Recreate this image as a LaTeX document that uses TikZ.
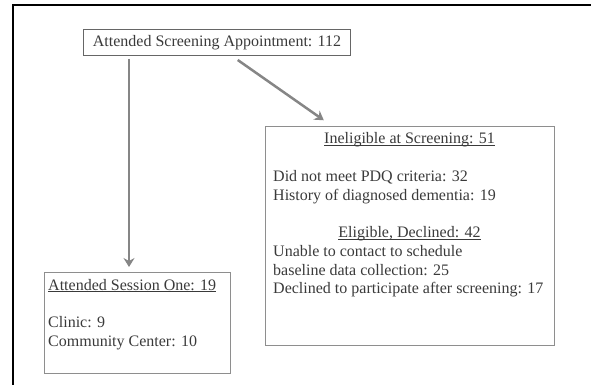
\documentclass[tikz,border=0pt]{standalone}
\usepackage{fontspec}
\setmainfont{Liberation Serif}
\usetikzlibrary{arrows.meta}

\definecolor{boxgray}{HTML}{8E8E8E}
\definecolor{txtgray}{HTML}{3A3A3A}
\definecolor{arrowgray}{HTML}{868686}

% underlined heading, rule just under the baseline
\newcommand{\undertitle}[1]{\setbox0\hbox{#1}\rlap{\rule[-2.2pt]{\wd0}{0.8pt}}\box0}

\tikzset{
	box/.style={draw=boxgray, line width=1pt, anchor=north west, inner sep=0pt},
	txt/.style={text=txtgray, inner sep=0pt, anchor=base west, align=left,
		font=\fontsize{16}{18.3}\selectfont},
	flow/.style={draw=arrowgray, line width=2.5pt,
		-{Stealth[length=9pt,width=11pt,inset=3pt]}}
}

\begin{document}
\begin{tikzpicture}[x=1pt,y=-1pt]
		\useasboundingbox (0,0) rectangle (591,385);
		% frame, top and left edge only
		\draw[line width=2pt] (12.7,385) -- (12.7,5) -- (591,5);

		% Screening box
		\node[box, draw=gray!80!black, minimum width=267pt, minimum height=26pt,
			text=txtgray, font=\fontsize{16}{18}\selectfont] (screen) at (83,29)
			{Attended Screening Appointment: 112};

		% Ineligible / declined box (base of a multi-line text is its last line)
		\node[box, minimum width=289pt, minimum height=219pt] (inelig) at (265,126) {};
		\node[txt, anchor=base] (ineligtitle) at (409.5,143.3)
			{\undertitle{Ineligible at Screening: 51}};
		\node[txt] (ineligreasons) at (273,200)
			{Did not meet PDQ criteria: 32\\History of diagnosed dementia: 19};
		\node[txt, anchor=base] (declinedtitle) at (409.5,237.7)
			{\undertitle{Eligible, Declined: 42}};
		\node[txt] (declinedreasons) at (273,293.3)
			{Unable to contact to schedule\\baseline data collection: 25\\Declined to participate after screening: 17};

		% Session one box
		\node[box, minimum width=186pt, minimum height=101pt] (session) at (44,272) {};
		\node[txt] (sessiontitle) at (48,290) {\undertitle{Attended Session One: 19}};
		\node[txt] (sites) at (48,346) {Clinic: 9\\Community Center: 10};

		% arrows
		\coordinate (downx) at (129,0);
		\draw[flow, shorten <=3pt, shorten >=5pt] (screen.south -| downx) -- (session.north -| downx);
		\coordinate (diagfrom) at (232,0);
		\coordinate (diagto) at (332,0);
		\draw[flow, shorten <=7pt, shorten >=10pt] (screen.south -| diagfrom) -- (inelig.north -| diagto);
	\end{tikzpicture}
\end{document}
